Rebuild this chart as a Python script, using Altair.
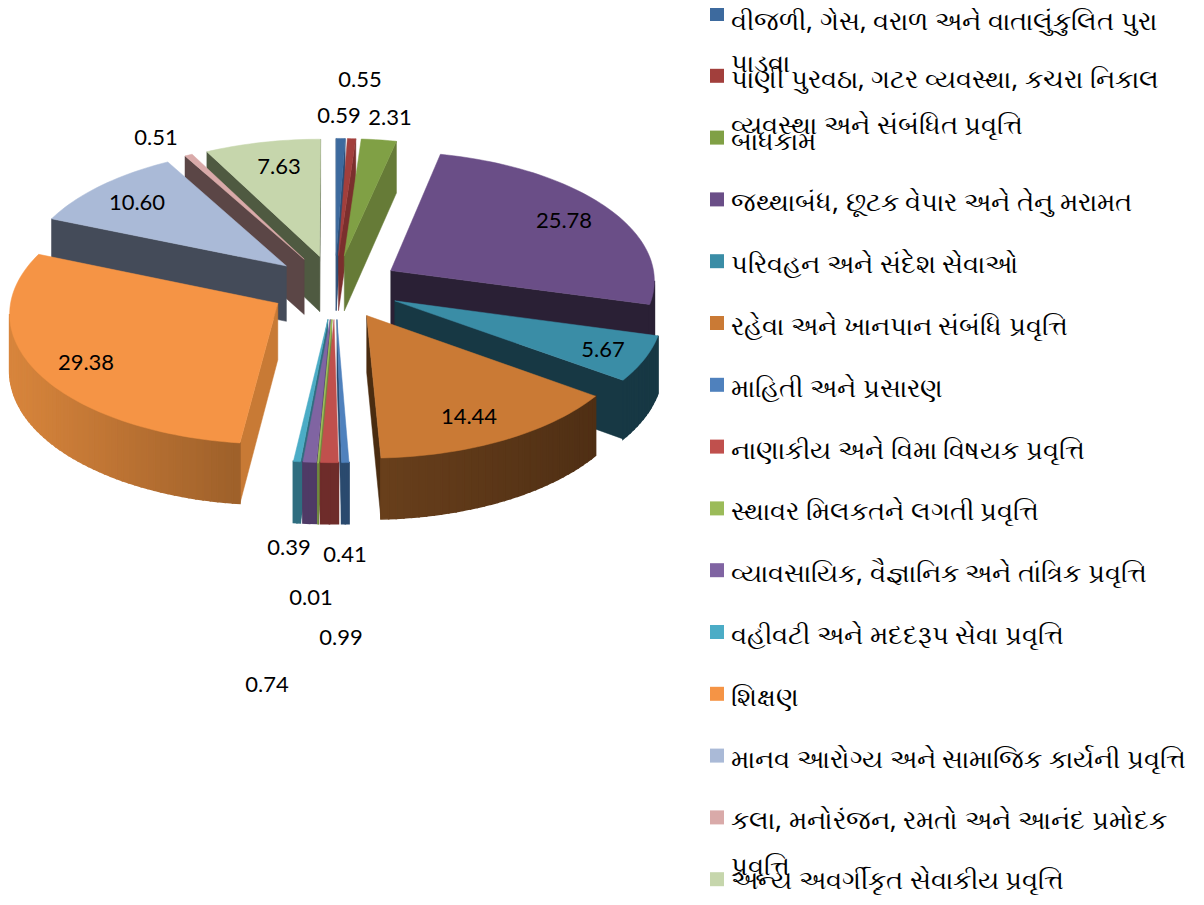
import math
import altair as alt

# ---- chart values -------------------------------------------------------
values = [0.59, 0.55, 2.31, 25.78, 5.67, 14.44, 0.41, 0.99, 0.01, 0.74, 0.39, 29.38, 10.60, 0.51, 7.63]
value_labels = ["0.59", "0.55", "2.31", "25.78", "5.67", "14.44", "0.41", "0.99", "0.01", "0.74", "0.39",
                "29.38", "10.60", "0.51", "7.63"]
categories = [
    ["વીજળી, ગેસ, વરાળ અને વાતાલુંકુલિત પુરા", "પાડવા"],
    ["પાણી પુરવઠા, ગટર વ્યવસ્થા, કચરા નિકાલ", "વ્યવસ્થા અને સંબંધિત પ્રવૃત્તિ"],
    ["બાંધકામ"],
    ["જથ્થાબંધ, છૂટક વેપાર અને તેનુ મરામત"],
    ["પરિવહન અને સંદેશ સેવાઓ"],
    ["રહેવા અને ખાનપાન સંબંધિ પ્રવૃત્તિ"],
    ["માહિતી અને પ્રસારણ"],
    ["નાણાકીય અને વિમા વિષયક પ્રવૃત્તિ"],
    ["સ્થાવર મિલકતને લગતી પ્રવૃત્તિ"],
    ["વ્યાવસાયિક, વૈજ્ઞાનિક અને તાંત્રિક પ્રવૃત્તિ"],
    ["વહીવટી અને મદદરૂપ સેવા પ્રવૃત્તિ"],
    ["શિક્ષણ"],
    ["માનવ આરોગ્ય અને સામાજિક કાર્યની પ્રવૃત્તિ"],
    ["કલા, મનોરંજન, રમતો અને આનંદ પ્રમોદક", "પ્રવૃત્તિ"],
    ["અન્ય અવર્ગીકૃત સેવાકીય પ્રવૃત્તિ"],
]
top_colors = ["#3D6A9E", "#A23F3C", "#80A045", "#6A4E87", "#3A8DA6", "#CA7A35", "#4F81BD", "#C0504D",
              "#9BBB59", "#8064A2", "#4BACC6", "#F59445", "#AABAD7", "#D9AAA9", "#C6D6AC"]
wall_colors = ["#2C4D75", "#7A2F2D", "#667B37", "#2A2035", "#173844", "#4A2C10", "#2A4A6E", "#6E2C2A",
               "#6F8A3C", "#4F3A66", "#2F6E80", "#C87A35", "#444B59", "#5B4646", "#4F5A41"]
outer_left = ["#2C4D75", "#7A2F2D", "#667B37", "#2A2035", "#173844", "#6A401C", "#2A4A6E", "#6E2C2A",
              "#6F8A3C", "#4F3A66", "#2F6E80", "#D8853C", "#444B59", "#5B4646", "#4F5A41"]
outer_right = ["#2C4D75", "#7A2F2D", "#667B37", "#2A2035", "#173844", "#4F2F14", "#2A4A6E", "#6E2C2A",
               "#6F8A3C", "#4F3A66", "#2F6E80", "#945A27", "#444B59", "#5B4646", "#4F5A41"]

# ---- layout (page pixels) -------------------------------------------------
label_pos = [(339, 116), (360, 80), (390, 118), (564, 221), (603, 350), (469, 417), (345, 555), (341, 638),
             (311, 598), (267, 685), (289, 548), (86, 363), (137, 203), (156, 138), (279, 167)]
MARGIN = 8
CX, CY, RX, RY, PERSP, EXPLODE, DEPTH = 335, 287, 265, 129, 0.067, 0.248, 56
LEG_TOP, LEG_STEP, LEG_X, TXT_X, LINE_GAP, LEG_FONT = 14, 61.8, 717, 731, 46, 26
LINE_NUDGE = {(0, 0): 4, (14, 0): -2}   # keeps the outermost lines' signs inside the drawing area


def project(x, y):
    w = 1 + PERSP * y
    return (CX + RX * x / w - MARGIN, CY - RY * y / w - MARGIN)


def lerp_hex(a, b, t):
    ca = [int(a[i:i + 2], 16) for i in (1, 3, 5)]
    cb = [int(b[i:i + 2], 16) for i in (1, 3, 5)]
    return "#%02x%02x%02x" % tuple(round(p + (q - p) * t) for p, q in zip(ca, cb))


def feature(points, color, width):
    ring = [[round(p[0], 2), round(p[1], 2)] for p in points]
    ring.append(ring[0])
    return {"type": "Feature", "properties": {"c": color, "w": width},
            "geometry": {"type": "Polygon", "coordinates": [ring]}}


total = sum(values)
cum = 0.0
slices = []
for i, v in enumerate(values):
    a0 = cum / total * 2 * math.pi
    cum += v
    a1 = cum / total * 2 * math.pi
    slices.append((i, a0, a1))


def slice_depth(s):
    m = (s[1] + s[2]) / 2
    return -math.cos(m)


features = []
for i, a0, a1 in sorted(slices, key=slice_depth):
    m = (a0 + a1) / 2
    ox, oy = EXPLODE * math.sin(m), EXPLODE * math.cos(m)
    n = max(2, int((a1 - a0) / math.radians(1.5)))
    model = [(ox, oy)] + [(ox + math.sin(a0 + (a1 - a0) * k / n), oy + math.cos(a0 + (a1 - a0) * k / n))
                          for k in range(n + 1)]
    top = [project(*p) for p in model]
    area = sum(top[k][0] * top[(k + 1) % len(top)][1] - top[(k + 1) % len(top)][0] * top[k][1]
               for k in range(len(top)))
    xs = [p[0] for p in top]
    xmin, xmax = min(xs), max(xs)
    radial, outer = [], []
    for k in range(len(top)):
        j = (k + 1) % len(top)
        p, q = top[k], top[j]
        dx, dy = q[0] - p[0], q[1] - p[1]
        ny = -dx if area > 0 else dx     # outward normal, y component on screen
        if ny <= 0:
            continue
        dp = DEPTH / (1 + PERSP * model[k][1])
        dq = DEPTH / (1 + PERSP * model[j][1])
        quad = [p, q, (q[0], q[1] + dq), (p[0], p[1] + dp)]
        if k == 0 or j == 0:
            radial.append(feature(quad, wall_colors[i], 0.5))
        else:
            t = ((p[0] + q[0]) / 2 - xmin) / max(xmax - xmin, 1)
            outer.append(feature(quad, lerp_hex(outer_left[i], outer_right[i], t), 1.6))
    features += radial + outer
    features.append(feature(top, top_colors[i], 1.6 if values[i] < 0.1 else 0.5))

shapes = alt.Chart(alt.InlineData(values={"type": "FeatureCollection", "features": features},
                                  format=alt.DataFormat(property="features", type="json"))).mark_geoshape().encode(
    fill=alt.Fill("properties.c:N", scale=None, legend=None),
    stroke=alt.Stroke("properties.c:N", scale=None, legend=None),
    strokeWidth=alt.StrokeWidth("properties.w:Q", scale=None, legend=None),
).project(type="identity", scale=1, translate=[0, 0])

labels = alt.Chart(alt.Data(values=[
    {"t": t, "x": p[0] - MARGIN, "y": p[1] - MARGIN} for t, p in zip(value_labels, label_pos)
])).mark_text(font="Lato", fontSize=22, color="#000000", align="center", baseline="middle").encode(
    x=alt.X("x:Q", scale=None, axis=None),
    y=alt.Y("y:Q", scale=None, axis=None),
    text="t:N",
)

swatches = alt.Chart(alt.Data(values=[
    {"c": c, "x": LEG_X - MARGIN, "y": LEG_TOP + i * LEG_STEP - MARGIN} for i, c in enumerate(top_colors)
])).mark_square(size=196, opacity=1, filled=True).encode(
    x=alt.X("x:Q", scale=None, axis=None),
    y=alt.Y("y:Q", scale=None, axis=None),
    fill=alt.Fill("c:N", scale=None, legend=None),
)

legend_rows = []
for i, lines in enumerate(categories):
    for k, line in enumerate(lines):
        nudge = LINE_NUDGE.get((i, k), 0)
        legend_rows.append({"t": line, "x": TXT_X - MARGIN,
                            "y": LEG_TOP + 12 + i * LEG_STEP + k * LINE_GAP - MARGIN + nudge})
legend_text = alt.Chart(alt.Data(values=legend_rows)).mark_text(
    font="Noto Sans", fontSize=LEG_FONT, color="#000000", align="left", baseline="alphabetic"
).encode(
    x=alt.X("x:Q", scale=None, axis=None),
    y=alt.Y("y:Q", scale=None, axis=None),
    text="t:N",
)

chart = alt.layer(shapes, labels, swatches, legend_text).properties(
    width=1188, height=889, padding=0, autosize=alt.AutoSizeParams(type="none")
).configure_view(stroke=None)

chart.save("out.html", embed_options={"renderer": "svg", "actions": False})
